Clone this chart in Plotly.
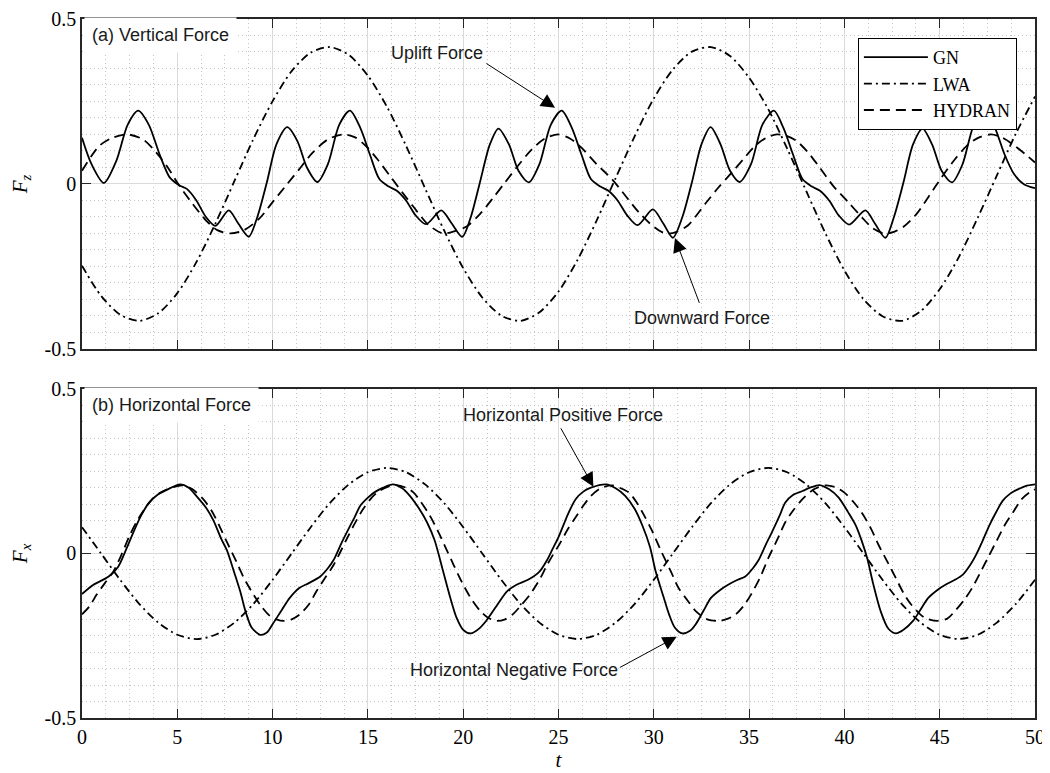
import plotly.graph_objects as go

# ---------------- data ----------------
# (a) vertical force
t_gn_z = [0, 0.5, 1.15, 1.8, 2.4, 2.95, 3.5, 4.1, 4.6, 5.1, 5.5, 6.0, 6.5, 7.0, 7.7, 8.2, 8.75, 9.2, 9.7, 10.2,
          10.77, 11.3, 11.8, 12.35, 12.9, 13.5, 14.06, 14.6, 15.1, 15.6, 16.1, 16.5, 17.0, 17.5, 18.05, 18.85,
          19.4, 19.95, 20.4, 20.9, 21.4, 21.85, 22.4, 22.9, 23.45, 24.0, 24.6, 25.17, 25.7, 26.2, 26.7, 27.2,
          27.6, 28.1, 28.6, 29.15, 29.95, 30.5, 31.0, 31.5, 32.0, 32.5, 32.98, 33.5, 34.0, 34.5, 35.1, 35.7,
          36.3, 36.8, 37.3, 37.8, 38.3, 38.7, 39.2, 39.7, 40.25, 41.1, 41.6, 42.15, 42.6, 43.1, 43.6, 44.1,
          44.6, 45.1, 45.65, 46.2, 46.8, 47.4, 47.9, 48.4, 48.9, 49.4, 50.0]
gn_z = [0.14, 0.06, 0.003, 0.07, 0.18, 0.222, 0.18, 0.085, 0.02, -0.004, -0.015, -0.05, -0.1, -0.127, -0.08,
        -0.12, -0.16, -0.1, 0.005, 0.12, 0.172, 0.13, 0.05, 0.006, 0.06, 0.18, 0.222, 0.17, 0.09, 0.015, -0.008,
        -0.02, -0.05, -0.095, -0.122, -0.08, -0.12, -0.16, -0.1, 0.01, 0.12, 0.168, 0.12, 0.04, 0.005, 0.06,
        0.18, 0.222, 0.17, 0.09, 0.015, -0.008, -0.02, -0.05, -0.095, -0.125, -0.077, -0.12, -0.163, -0.1,
        0.005, 0.12, 0.172, 0.12, 0.04, 0.006, 0.06, 0.18, 0.222, 0.17, 0.09, 0.015, -0.008, -0.02, -0.05,
        -0.095, -0.123, -0.08, -0.12, -0.163, -0.1, 0.005, 0.12, 0.168, 0.12, 0.04, 0.005, 0.06, 0.18, 0.222,
        0.17, 0.09, 0.03, 0.0, -0.013]

t_lwa_z = list(range(0, 51))
lwa_z = [-0.248, -0.339, -0.396, -0.415, -0.392, -0.331, -0.237, -0.12, 0.009, 0.137, 0.251, 0.342, 0.398,
         0.415, 0.391, 0.328, 0.234, 0.116, -0.013, -0.141, -0.255, -0.344, -0.399, -0.415, -0.389, -0.326,
         -0.23, -0.111, 0.018, 0.145, 0.259, 0.347, 0.401, 0.415, 0.388, 0.322, 0.227, 0.107, -0.022, -0.149,
         -0.262, -0.349, -0.401, -0.415, -0.386, -0.319, -0.222, -0.102, 0.026, 0.153, 0.265]

t_hyd_z = [0, 0.9, 1.6, 2.4, 3.2, 3.9, 4.5, 5.1, 5.8, 6.5, 7.1, 7.8, 8.5, 9.3, 10.0, 10.7, 11.4, 12.1, 12.9,
           13.7, 14.3, 14.9, 15.5, 16.15, 16.8, 17.4, 18.2, 18.95, 19.6, 20.2, 20.9, 21.6, 22.2, 22.8, 23.6,
           24.3, 25.0, 25.6, 26.2, 27.0, 27.8, 28.5, 29.2, 29.9, 30.6, 31.2, 31.8, 32.7, 33.4, 34.1, 34.7,
           35.3, 35.9, 36.45, 37.0, 37.5, 38.1, 38.7, 39.4, 40.2, 40.9, 41.5, 42.1, 42.6, 43.1, 43.8, 44.4,
           45.1, 45.8, 46.5, 47.1, 47.7, 48.3, 48.95, 49.5, 50.0]
hyd_z = [0.04, 0.115, 0.14, 0.15, 0.135, 0.095, 0.05, -0.005, -0.06, -0.11, -0.14, -0.15, -0.14, -0.105,
         -0.055, -0.005, 0.045, 0.095, 0.135, 0.15, 0.142, 0.115, 0.075, 0.025, -0.025, -0.07, -0.125, -0.15,
         -0.142, -0.128, -0.09, -0.04, 0.005, 0.05, 0.105, 0.138, 0.15, 0.138, 0.11, 0.06, 0.015, -0.035,
         -0.085, -0.125, -0.15, -0.145, -0.125, -0.06, -0.01, 0.035, 0.075, 0.115, 0.14, 0.15, 0.145, 0.13,
         0.095, 0.05, -0.005, -0.055, -0.1, -0.135, -0.15, -0.145, -0.13, -0.09, -0.04, 0.02, 0.075, 0.12,
         0.142, 0.15, 0.14, 0.115, 0.09, 0.065]

# (b) horizontal force
t_gn_x = [0, 0.6, 1.4, 1.9, 2.3, 2.7, 3.1, 3.5, 4.0, 4.5, 5.14, 5.6, 6.0, 6.5, 6.9, 7.3, 7.6, 8.0, 8.3, 8.6,
          8.9, 9.34, 9.7, 10.0, 10.5, 10.9, 11.4, 11.9, 12.5, 12.9, 13.2, 13.6, 13.9, 14.3, 14.6, 15.0, 15.4,
          15.8, 16.3, 16.8, 17.2, 17.7, 18.1, 18.5, 18.95, 19.3, 19.65, 20.0, 20.4, 20.8, 21.2, 21.8, 22.3,
          22.8, 23.4, 24.0, 24.4, 24.7, 25.0, 25.5, 25.9, 26.3, 26.7, 27.5, 28.0, 28.5, 29.0, 29.4, 29.8,
          30.1, 30.5, 30.8, 31.1, 31.5, 31.9, 32.2, 32.6, 33.0, 33.5, 33.9, 34.4, 34.8, 35.2, 35.5, 35.9,
          36.2, 36.6, 36.9, 37.3, 37.8, 38.2, 38.7, 39.2, 39.7, 40.2, 40.6, 40.9, 41.2, 41.5, 41.9, 42.3,
          42.7, 43.1, 43.6, 44.0, 44.4, 44.9, 45.3, 45.8, 46.2, 46.6, 46.9, 47.3, 47.6, 48.0, 48.3, 48.7,
          49.1, 49.5, 50.0]
gn_x = [-0.123, -0.095, -0.07, -0.04, 0.01, 0.065, 0.115, 0.153, 0.18, 0.195, 0.21, 0.2, 0.175, 0.14, 0.1,
        0.045, 0.01, -0.06, -0.115, -0.18, -0.225, -0.247, -0.24, -0.215, -0.17, -0.135, -0.105, -0.09, -0.07,
        -0.045, -0.02, 0.03, 0.065, 0.11, 0.145, 0.17, 0.188, 0.2, 0.21, 0.198, 0.175, 0.135, 0.095, 0.04,
        -0.055, -0.13, -0.195, -0.232, -0.243, -0.23, -0.205, -0.155, -0.115, -0.095, -0.08, -0.055, -0.02,
        0.015, 0.05, 0.12, 0.165, 0.188, 0.2, 0.21, 0.198, 0.175, 0.135, 0.085, 0.02, -0.055, -0.13, -0.185,
        -0.225, -0.243, -0.235, -0.215, -0.175, -0.135, -0.11, -0.095, -0.08, -0.07, -0.045, -0.02, 0.03,
        0.065, 0.115, 0.155, 0.178, 0.19, 0.2, 0.208, 0.195, 0.17, 0.125, 0.085, 0.04, -0.015, -0.09, -0.175,
        -0.228, -0.243, -0.232, -0.205, -0.17, -0.135, -0.11, -0.095, -0.08, -0.065, -0.035, -0.005, 0.045,
        0.085, 0.13, 0.16, 0.182, 0.195, 0.205, 0.21]

t_lwa_x = list(range(0, 51))
lwa_x = [0.08, 0.0, -0.08, -0.153, -0.21, -0.247, -0.26, -0.247, -0.21, -0.153, -0.08, 0.0, 0.08, 0.153,
         0.21, 0.247, 0.26, 0.247, 0.21, 0.153, 0.08, 0.0, -0.08, -0.153, -0.21, -0.247, -0.26, -0.247, -0.21,
         -0.153, -0.08, 0.0, 0.08, 0.153, 0.21, 0.247, 0.26, 0.247, 0.21, 0.153, 0.08, 0.0, -0.08, -0.153,
         -0.21, -0.247, -0.26, -0.247, -0.21, -0.153, -0.08]

t_hyd_x = [0, 0.4, 0.77, 1.2, 1.64, 2.1, 2.5, 2.9, 3.4, 3.8, 4.27, 4.8, 5.3, 5.8, 6.36, 6.8, 7.2, 7.6, 8.1,
           8.5, 9.0, 9.4, 9.86, 10.2, 10.56, 11.0, 11.43, 11.9, 12.3, 12.8, 13.2, 13.9, 14.3, 14.75, 15.2,
           15.6, 16.0, 16.5, 17.0, 17.4, 17.8, 18.25, 18.7, 19.1, 19.5, 20.0, 20.5, 20.9, 21.3, 21.75, 22.2,
           22.6, 23.0, 23.5, 24.0, 24.4, 24.7, 25.07, 25.5, 25.9, 26.3, 26.7, 27.2, 27.8, 28.2, 28.7, 29.1,
           29.5, 29.9, 30.4, 30.9, 31.3, 31.8, 32.2, 32.8, 33.4, 33.9, 34.3, 34.7, 35.1, 35.6, 36.0, 36.5,
           36.9, 37.3, 37.8, 38.4, 39.0, 39.5, 40.0, 40.5, 40.9, 41.4, 41.8, 42.3, 42.7, 43.1, 43.5, 44.2,
           44.9, 45.4, 45.8, 46.3, 46.7, 47.2, 47.6, 48.0, 48.4, 48.9, 49.3, 49.7, 50.0]
hyd_x = [-0.185, -0.16, -0.125, -0.09, -0.055, 0.0, 0.055, 0.1, 0.145, 0.172, 0.19, 0.202, 0.207, 0.195,
         0.165, 0.13, 0.085, 0.035, -0.025, -0.075, -0.125, -0.16, -0.19, -0.2, -0.205, -0.2, -0.185, -0.155,
         -0.115, -0.07, -0.035, 0.045, 0.09, 0.135, 0.17, 0.19, 0.202, 0.208, 0.2, 0.185, 0.155, 0.115, 0.065,
         0.015, -0.035, -0.095, -0.145, -0.175, -0.195, -0.205, -0.2, -0.185, -0.16, -0.125, -0.08, -0.035,
         -0.005, 0.03, 0.075, 0.11, 0.145, 0.175, 0.198, 0.207, 0.2, 0.185, 0.155, 0.115, 0.07, 0.005, -0.055,
         -0.105, -0.145, -0.175, -0.2, -0.205, -0.198, -0.185, -0.16, -0.125, -0.07, -0.015, 0.045, 0.095,
         0.13, 0.165, 0.195, 0.207, 0.202, 0.185, 0.155, 0.125, 0.075, 0.025, -0.03, -0.075, -0.12, -0.155,
         -0.195, -0.205, -0.198, -0.175, -0.14, -0.105, -0.05, -0.005, 0.04, 0.085, 0.13, 0.165, 0.185, 0.195]

series_names = ["GN", "LWA", "HYDRAN"]
x_ticks = [0, 5, 10, 15, 20, 25, 30, 35, 40, 45, 50]
y_ticks = [-0.5, 0, 0.5]
y_ticktext = ["-0.5", "0", "0.5"]

# ---------------- figure ----------------
SERIF = "Liberation Serif"
SANS = "Liberation Sans"
dash_styles = {"GN": "solid", "LWA": "8px,4px,2px,4px", "HYDRAN": "10px,6px"}

fig = go.Figure()
panels = [
    ("x", "y", [(t_gn_z, gn_z), (t_lwa_z, lwa_z), (t_hyd_z, hyd_z)], True),
    ("x2", "y2", [(t_gn_x, gn_x), (t_lwa_x, lwa_x), (t_hyd_x, hyd_x)], False),
]
for xa, ya, data, show in panels:
    for name, (tt, vv) in zip(series_names, data):
        fig.add_trace(go.Scatter(
            x=tt, y=vv, name=name, mode="lines", xaxis=xa, yaxis=ya,
            line=dict(color="black", width=1.8, dash=dash_styles[name], shape="spline", smoothing=0.8),
            showlegend=show))

axis_line = "#262626"
minor_grid = "#c4c4c4"
common_x = dict(range=[0, 50], tickvals=x_ticks, ticks="inside", ticklen=9, tickcolor=axis_line,
                showline=True, linecolor=axis_line, linewidth=1.5, mirror="ticks", automargin=False,
                showgrid=True, gridcolor="#dadada", gridwidth=1, zeroline=False,
                minor=dict(dtick=1.25, tick0=0, showgrid=True, gridcolor=minor_grid, griddash="1px,3px",
                           gridwidth=1, ticks=""),
                tickfont=dict(family=SERIF, size=20, color="black"))
common_y = dict(range=[-0.5, 0.5], tickvals=y_ticks, ticktext=y_ticktext, ticks="inside", ticklen=9,
                tickcolor=axis_line, showline=True, linecolor=axis_line, linewidth=1.5, mirror="ticks",
                automargin=False,
                showgrid=True, gridcolor="#dadada", gridwidth=1, zeroline=False,
                minor=dict(dtick=0.05, tick0=0, showgrid=True, gridcolor=minor_grid, griddash="1px,3px",
                           gridwidth=1, ticks=""),
                tickfont=dict(family=SERIF, size=20, color="black"))

title_font = dict(family=SERIF, size=21, color="black")
# the page body adds an 8px offset, so the figure is 8px smaller with margins reduced accordingly
fig.update_layout(
    width=1042, height=765,
    margin=dict(l=74, r=15, t=11, b=55, autoexpand=False),
    paper_bgcolor="white", plot_bgcolor="white",
    xaxis=dict(common_x, anchor="y", domain=[0, 1], showticklabels=False),
    yaxis=dict(common_y, anchor="x", domain=[0.528, 1],
               title=dict(text="<i>F</i><sub><i>z</i></sub>", font=title_font, standoff=16)),
    xaxis2=dict(common_x, anchor="y2", domain=[0, 1],
                title=dict(text="<i>t</i>", font=title_font, standoff=0)),
    yaxis2=dict(common_y, anchor="x2", domain=[0, 0.4707],
                title=dict(text="<i>F</i><sub><i>x</i></sub>", font=title_font, standoff=16)),
    legend=dict(x=0.981, xanchor="right", y=0.9728, yanchor="top", bgcolor="white",
                bordercolor="black", borderwidth=1, font=dict(family=SERIF, size=18, color="black"),
                tracegroupgap=0, itemwidth=64),
    showlegend=True,
)

ann_font = dict(family=SANS, size=18, color="#1a1a1a")
annotations = [
    dict(text="(a) Vertical Force", xref="paper", yref="paper", x=0.0021, y=1.0029, xanchor="left",
         yanchor="top", showarrow=False, bgcolor="white", borderpad=7, font=ann_font),
    dict(text="(b) Horizontal Force", xref="paper", yref="paper", x=0.0021, y=0.4735, xanchor="left",
         yanchor="top", showarrow=False, bgcolor="white", borderpad=7, font=ann_font),
    dict(text="Uplift Force", xref="x", yref="y", x=18.63, y=0.397, showarrow=False, font=ann_font),
    dict(text="Downward Force", xref="x", yref="y", x=32.55, y=-0.406, showarrow=False, font=ann_font),
    dict(text="Horizontal Positive Force", xref="x2", yref="y2", x=25.24, y=0.421, showarrow=False,
         font=ann_font),
    dict(text="Horizontal Negative Force", xref="x2", yref="y2", x=22.68, y=-0.354, showarrow=False,
         font=ann_font),
]
arrows = [
    ("x", "y", 24.82, 0.231, 21.14, 0.368),
    ("x", "y", 31.11, -0.164, 32.42, -0.365),
    ("x2", "y2", 26.83, 0.203, 25.08, 0.385),
    ("x2", "y2", 31.2, -0.253, 28.14, -0.349),
]
for xr, yr, x0, y0, ax0, ay0 in arrows:
    annotations.append(dict(text="", xref=xr, yref=yr, x=x0, y=y0, axref=xr, ayref=yr, ax=ax0, ay=ay0,
                            showarrow=True, arrowhead=2, arrowsize=2.8, arrowwidth=1, arrowcolor="black",
                            standoff=0, startstandoff=0))
fig.update_layout(annotations=annotations)

fig.write_html("out.html")
